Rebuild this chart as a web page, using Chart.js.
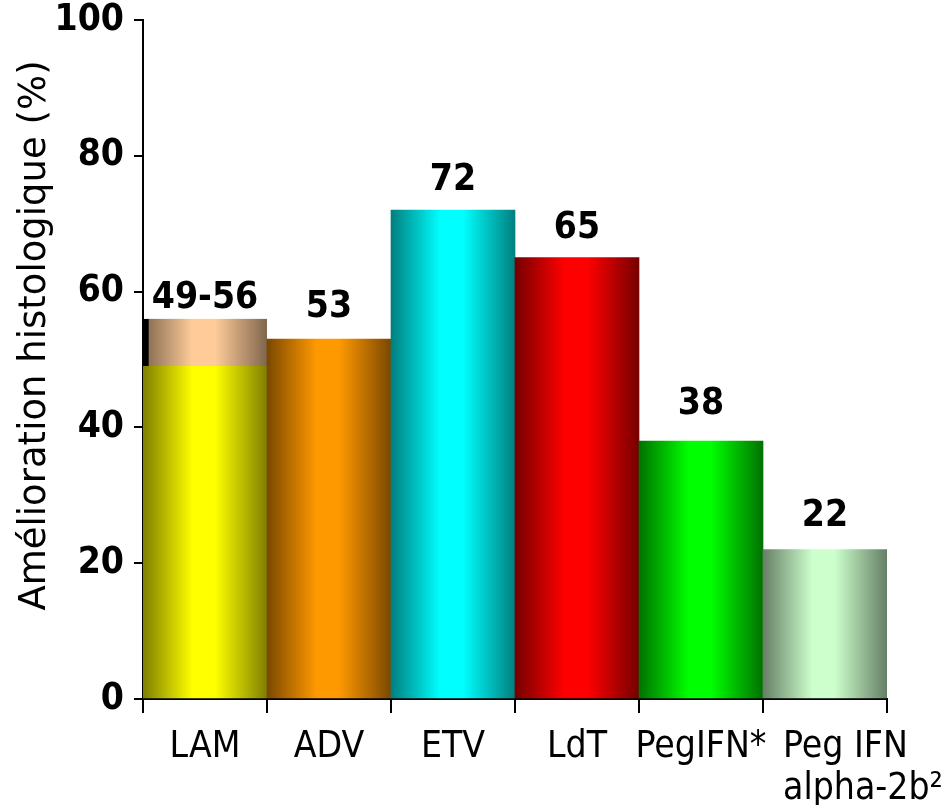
<!DOCTYPE html>
<html><head><meta charset="utf-8">
<script src="https://cdn.jsdelivr.net/npm/chart.js@4.4.1/dist/chart.umd.min.js"></script>
<style>html,body{margin:0;padding:0;background:#fff}canvas{display:block}</style>
</head><body>
<canvas id="c" width="947" height="805"></canvas>
<script>
// ---- data ----
const categories = ['LAM', 'ADV', 'ETV', 'LdT', 'PegIFN*', ['Peg IFN', 'alpha-2b²']];
const improvement = [49, 53, 72, 65, 38, 22];
const lamRange = [49, 56];
const valueLabels = ['49-56', '53', '72', '65', '38', '22'];
const yTicks = [0, 20, 40, 60, 80, 100];
const axisTitle = 'Amélioration histologique (%)';

// ---- styles ----
const brightColors = ['#ffff00', '#ff9900', '#00ffff', '#ff0000', '#00ff00', '#ccffcc'];
const darkColors = ['#7f7f00', '#7a4800', '#007f7f', '#760000', '#007200', '#667f66'];
const rangeBright = '#ffcc99', rangeDark = '#80664d';
const COND = '"DejaVu Sans Condensed", "DejaVu Sans"';

function grad(c, dark, bright) {
  const chart = c.chart, xs = chart.scales && chart.scales.x;
  if (!xs || !chart.chartArea || c.dataIndex === undefined) return bright;
  const mid = xs.getPixelForValue(c.dataIndex);
  const half = xs.width / categories.length / 2;
  const g = chart.ctx.createLinearGradient(mid - half, 0, mid + half, 0);
  g.addColorStop(0, dark);
  g.addColorStop(0.40, bright);
  g.addColorStop(0.58, bright);
  g.addColorStop(1, dark);
  return g;
}

const textPlugin = {
  id: 'texts',
  afterDraw(chart, args, opts) {
    const { ctx } = chart, x = chart.scales.x, y = chart.scales.y;
    ctx.save();
    ctx.fillStyle = '#000';
    ctx.font = 'bold 37px ' + COND;
    ctx.textAlign = 'center';
    ctx.textBaseline = 'alphabetic';
    valueLabels.forEach((t, i) => {
      const top = i === 0 ? lamRange[1] : improvement[i];
      ctx.fillText(t, x.getPixelForValue(i), y.getPixelForValue(top) - opts.gaps[i]);
    });
    ctx.font = '37px ' + COND;
    const half = x.width / categories.length / 2;
    categories.forEach((lab, i) => {
      const c = x.getPixelForValue(i);
      const lines = Array.isArray(lab) ? lab : [lab];
      ctx.textAlign = lines.length > 1 ? 'left' : 'center';
      const px = lines.length > 1 ? c - half + opts.multiIndent : c;
      lines.forEach((ln, k) => ctx.fillText(ln, px, y.bottom + opts.labelBaseline + k * opts.lineHeight));
    });
    ctx.font = '37px "DejaVu Sans"';
    ctx.translate(opts.titleX, (y.top + y.bottom) / 2 - opts.titleShift);
    ctx.rotate(-Math.PI / 2);
    ctx.textAlign = 'center';
    ctx.textBaseline = 'middle';
    ctx.fillText(axisTitle, 0, 0);
    ctx.restore();
  }
};

new Chart(document.getElementById('c'), {
  type: 'bar',
  data: {
    labels: categories,
    datasets: [
      {
        data: improvement,
        backgroundColor: c => grad(c, darkColors[c.dataIndex], brightColors[c.dataIndex]),
        borderWidth: 0,
        barPercentage: 1, categoryPercentage: 1, grouped: false
      },
      {
        data: categories.map((_, i) => i === 0 ? lamRange : null),
        backgroundColor: c => grad(c, rangeDark, rangeBright),
        borderColor: '#000',
        borderWidth: { left: 6, top: 0, right: 0, bottom: 0 },
        borderSkipped: false,
        barPercentage: 1, categoryPercentage: 1, grouped: false
      }
    ]
  },
  options: {
    responsive: false,
    animation: false,
    devicePixelRatio: 1,
    layout: { padding: { top: 20, right: 60, bottom: 0, left: 0 } },
    plugins: {
      legend: { display: false },
      tooltip: { enabled: false },
      texts: { gaps: [11, 22, 20, 20, 27, 24], labelBaseline: 58, lineHeight: 42, multiIndent: 20, titleX: 35, titleShift: 24 }
    },
    scales: {
      x: {
        offset: true,
        z: 1,
        grid: { offset: true, drawOnChartArea: false, drawTicks: true, tickLength: 14, color: '#000', lineWidth: 2 },
        border: { color: '#000', width: 2 },
        ticks: { display: false },
        afterFit: s => { s.height = 106; s.paddingLeft = 0; s.paddingRight = 0; }
      },
      y: {
        min: 0, max: 100,
        z: 1,
        afterBuildTicks: s => { s.ticks = yTicks.map(v => ({ value: v })); },
        ticks: { color: '#000', padding: 10, font: { family: COND, weight: 'bold', size: 37 } },
        grid: { drawOnChartArea: false, tickLength: 9, color: '#000', lineWidth: 2 },
        border: { color: '#000', width: 2 },
        afterFit: s => { s.width = 143; s.paddingTop = 0; s.paddingBottom = 0; }
      }
    }
  },
  plugins: [textPlugin]
});
</script>
</body></html>
